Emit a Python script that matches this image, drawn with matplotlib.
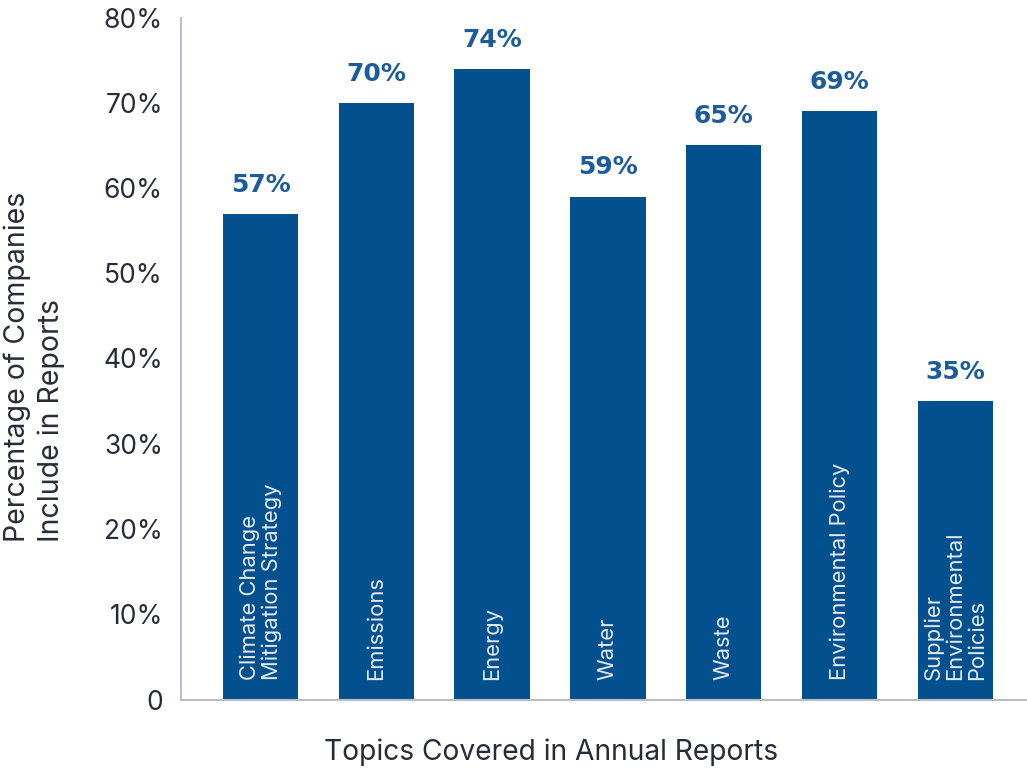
import matplotlib
matplotlib.use("Agg")
import matplotlib.pyplot as plt
from matplotlib.ticker import FixedLocator, FixedFormatter

topics = [
    "Climate Change\nMitigation Strategy",
    "Emissions",
    "Energy",
    "Water",
    "Waste",
    "Environmental Policy",
    "Supplier\nEnvironmental\nPolicies",
]
shares = [57, 70, 74, 59, 65, 69, 35]
tick_values = [0, 10, 20, 30, 40, 50, 60, 70, 80]
tick_labels = ["0", "10%", "20%", "30%", "40%", "50%", "60%", "70%", "80%"]

BAR = "#03508f"
LABEL = "#1d5c9c"
TEXT = "#262c38"
SPINE = "#b9bdc5"

plt.rcParams["font.family"] = ["Inter", "DejaVu Sans"]

fig = plt.figure(figsize=(10.27, 7.72), dpi=100)
ax = fig.add_axes([181 / 1027, 1 - 699.5 / 772, 1 - 181 / 1027, (699.5 - 17.5) / 772])

x = list(range(len(topics)))
ax.bar(x, shares, width=0.65, color=BAR, zorder=2)

for xi, v, name in zip(x, shares, topics):
    ax.text(xi, v + 2.0, f"{v}%", ha="center", va="bottom",
            fontsize=18, fontweight="bold", color=LABEL, family="DejaVu Sans")
    ax.text(xi, 2.3, name, rotation=90, ha="center", va="bottom",
            multialignment="left", fontsize=15.8, color="#e4eaf2",
            linespacing=1.1)

ax.set_xlim(-0.687, 6.62)
ax.set_ylim(0, 80)
ax.yaxis.set_major_locator(FixedLocator(tick_values))
ax.yaxis.set_major_formatter(FixedFormatter(tick_labels))
ax.set_xticks([])
ax.tick_params(axis="y", length=0, pad=13, labelsize=19, labelcolor=TEXT)

for side in ("top", "right"):
    ax.spines[side].set_visible(False)
for side in ("left", "bottom"):
    ax.spines[side].set_color(SPINE)
    ax.spines[side].set_linewidth(1.5)

fig.text(34 / 1027, 1 - 367 / 772, "Percentage of Companies\nInclude in Reports",
         rotation=90, ha="center", va="center", multialignment="left",
         fontsize=20.5, color=TEXT, linespacing=1.3)
fig.text(551 / 1027, 1 - 752 / 772, "Topics Covered in Annual Reports",
         ha="center", va="center", fontsize=20.3, color=TEXT)

fig.savefig("out.png", dpi=100)
